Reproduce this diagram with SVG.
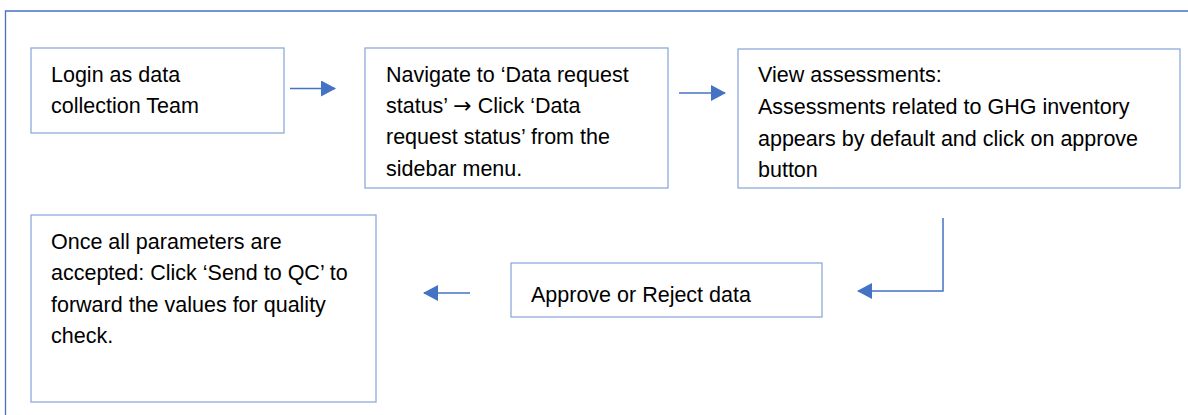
<svg xmlns="http://www.w3.org/2000/svg" width="1188" height="415" viewBox="0 0 1188 415">
<style>
.box{fill:#fff;stroke:#8FAADC;stroke-width:1.3}
.t{font-family:"Liberation Sans",Arial,sans-serif;font-size:21.5px;fill:#000}
.arw{font-family:"DejaVu Sans",sans-serif;font-size:22px}
.c{fill:none;stroke:#4472C4;stroke-width:1.5}
</style>
<defs>
<marker id="ah" markerWidth="16" markerHeight="16" refX="14" refY="8" orient="auto" markerUnits="userSpaceOnUse">
<path d="M0,0 L15,8 L0,16 Z" fill="#4472C4"/>
</marker>
</defs>
<rect x="0" y="0" width="1188" height="415" fill="#fff"/>
<path d="M5.5,415 V11 H1188" fill="none" stroke="#4472C4" stroke-width="1.3"/>
<g id="n1">
<rect class="box" x="31" y="48" width="253" height="85"/>
<text class="t" x="51" y="82">Login as data</text>
<text class="t" x="51" y="113">collection Team</text>
</g>
<g id="n2">
<rect class="box" x="365" y="48" width="303" height="140"/>
<text class="t" x="386" y="82">Navigate to ‘Data request</text>
<text class="t" x="386" y="113">status’ <tspan class="arw">→</tspan> Click ‘Data</text>
<text class="t" x="386" y="144">request status’ from the</text>
<text class="t" x="386" y="176">sidebar menu.</text>
</g>
<g id="n3">
<rect class="box" x="738" y="49" width="442" height="139"/>
<text class="t" x="758" y="82">View assessments:</text>
<text class="t" x="758" y="114">Assessments related to GHG inventory</text>
<text class="t" x="758" y="146">appears by default and click on approve</text>
<text class="t" x="758" y="177">button</text>
</g>
<g id="n4">
<rect class="box" x="511" y="263" width="311" height="54"/>
<text class="t" x="531" y="302">Approve or Reject data</text>
</g>
<g id="n5">
<rect class="box" x="31" y="215" width="345" height="187"/>
<text class="t" x="51" y="249">Once all parameters are</text>
<text class="t" x="51" y="280">accepted: Click ‘Send to QC’ to</text>
<text class="t" x="51" y="312">forward the values for quality</text>
<text class="t" x="51" y="343">check.</text>
</g>
<g id="connectors">
<line class="c" x1="290" y1="88.5" x2="335" y2="88.5" marker-end="url(#ah)"/>
<line class="c" x1="679" y1="93" x2="725" y2="93" marker-end="url(#ah)"/>
<path class="c" d="M943,218 V291 H858" marker-end="url(#ah)"/>
<line class="c" x1="470" y1="293" x2="424" y2="293" marker-end="url(#ah)"/>
</g>
</svg>
